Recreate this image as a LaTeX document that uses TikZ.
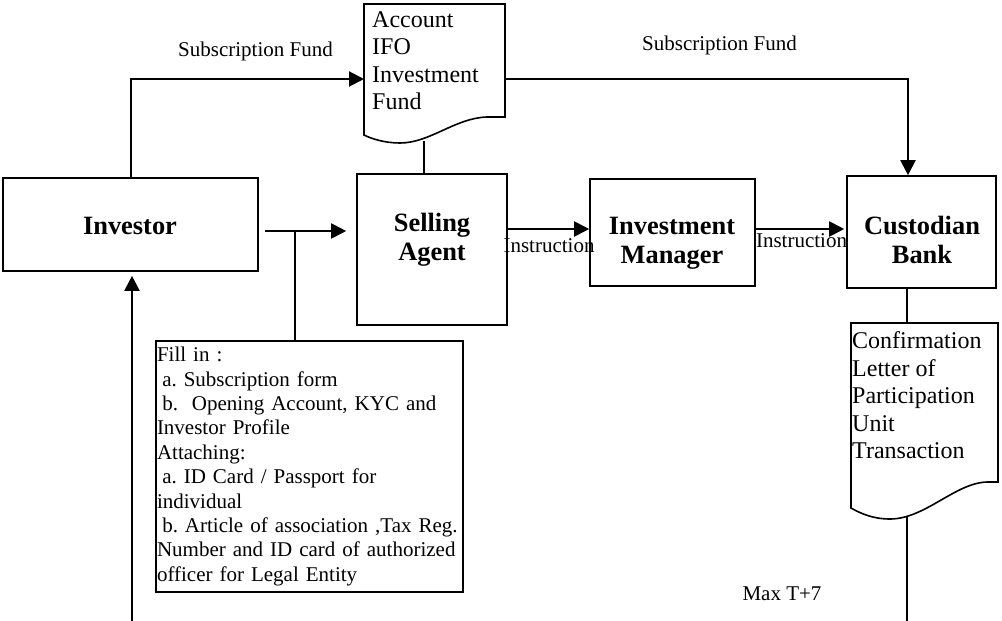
\documentclass[tikz,border=0pt]{standalone}
\usepackage{fontspec}
\setmainfont{Liberation Serif}
\usetikzlibrary{arrows.meta,calc}
\frenchspacing
\tikzset{
  box/.style={draw,line width=1.6pt,inner sep=0pt},
  boldtxt/.style={font=\fontsize{26.4}{29}\selectfont\bfseries,align=center,inner sep=0pt},
  lbl/.style={font=\fontsize{21}{24}\selectfont,inner sep=0pt,anchor=base},
  doctext/.style={font=\fontsize{24}{27.5}\selectfont,align=left,inner sep=0pt,anchor=north west},
  docline/.style={draw,line width=1.6pt},
  conn/.style={line width=2pt},
  arr/.style={conn,-{Triangle[length=15pt,width=15pt]}}
}
\begin{document}
\begin{tikzpicture}[x=1pt,y=-1pt]
\useasboundingbox (0,0) rectangle (1002,621);
% boxes
\node[box,minimum width=255pt,minimum height=93pt] (inv) at (130.5,224.5) {};
\node[boldtxt] (invT) at (130,225.5) {Investor};
\node[box,minimum width=150pt,minimum height=151pt] (sa) at (432,249.5) {};
\node[boldtxt] (saT) at (432,240) {Selling\\Agent};
\node[box,minimum width=165pt,minimum height=107pt] (im) at (672.5,232.5) {};
\node[boldtxt] (imT) at (672,243) {Investment\\Manager};
\node[box,minimum width=149pt,minimum height=112pt] (cb) at (921.5,232) {};
\node[boldtxt] (cbT) at (922,240) {Custodian\\Bank};
% fill-in box
\node[box,minimum width=307pt,minimum height=251pt,text width=305pt,inner xsep=1pt,align=left,
      font=\fontsize{21}{24.4}\selectfont] (fill) at (309.5,466.5)
 {Fill in :\\
  \hspace*{5.25pt}a. Subscription form\\
  \hspace*{5.25pt}b.\ \ Opening Account, KYC and\\
  Investor Profile\\
  Attaching:\\
  \hspace*{5.25pt}a. ID Card / Passport for\\
  individual\\
  \hspace*{5.25pt}b. Article of association ,Tax Reg.\\
  Number and ID card of authorized\\
  officer for Legal Entity};
% account document
\draw[docline] (364,4) -- (505,4) -- (505,117) -- (487,117)
  .. controls (455,118) and (430,143) .. (400,143)
  .. controls (385,143) and (372,139) .. (364,135) -- cycle;
\node[doctext] (acct) at (372,11.2) {Account\\IFO\\Investment\\Fund};
\coordinate (acctIn) at (364,79);
\coordinate (acctOut) at (505,79);
\coordinate (acctBot) at (424,141);
% confirmation document
\draw[docline] (851,323) -- (998,323) -- (998,482) -- (987,482)
  .. controls (955,483) and (925,519) .. (890,519)
  .. controls (872,519) and (860,513) .. (851,508) -- cycle;
\node[doctext] (conf) at (852,331.6) {Confirmation\\Letter of\\Participation\\Unit\\Transaction};
\coordinate (confTop) at (907,323);
\coordinate (confBot) at (907,517);
\coordinate (confEnd) at (907,621);
% connectors
\draw[arr] (inv.north) |- (acctIn);
\node[lbl] (sf1) at (255.5,56) {Subscription Fund};
\coordinate (cbTop) at ($(cb.north)+(-13.5,0)$);
\draw[arr] (acctOut) -| (cbTop);
\node[lbl] (sf2) at (719.5,50) {Subscription Fund};
\draw[conn] (acctBot) -- (acctBot |- sa.north);
\coordinate (invOut) at (265,231);
\coordinate (split) at (295,231);
\draw[arr,shorten >=10pt] (invOut) -- (sa.west |- invOut);
\draw[conn] (split) -- (split |- fill.north);
\coordinate (upStart) at (132,621);
\draw[arr,shorten >=4pt] (upStart) -- (upStart |- inv.south);
\coordinate (instrY) at (0,229);
\draw[arr] (sa.east |- instrY) -- (im.west |- instrY);
\draw[arr,shorten >=2pt] (im.east |- instrY) -- (cb.west |- instrY);
\node[lbl] (ins1) at (549,252) {Instruction};
\node[lbl] (ins2) at (801.5,247) {Instruction};
\draw[conn] (cb.south -| confTop) -- (confTop);
\draw[conn] (confBot) -- (confEnd);
\node[lbl] (maxt) at (782,600) {Max T+7};
\end{tikzpicture}
\end{document}
